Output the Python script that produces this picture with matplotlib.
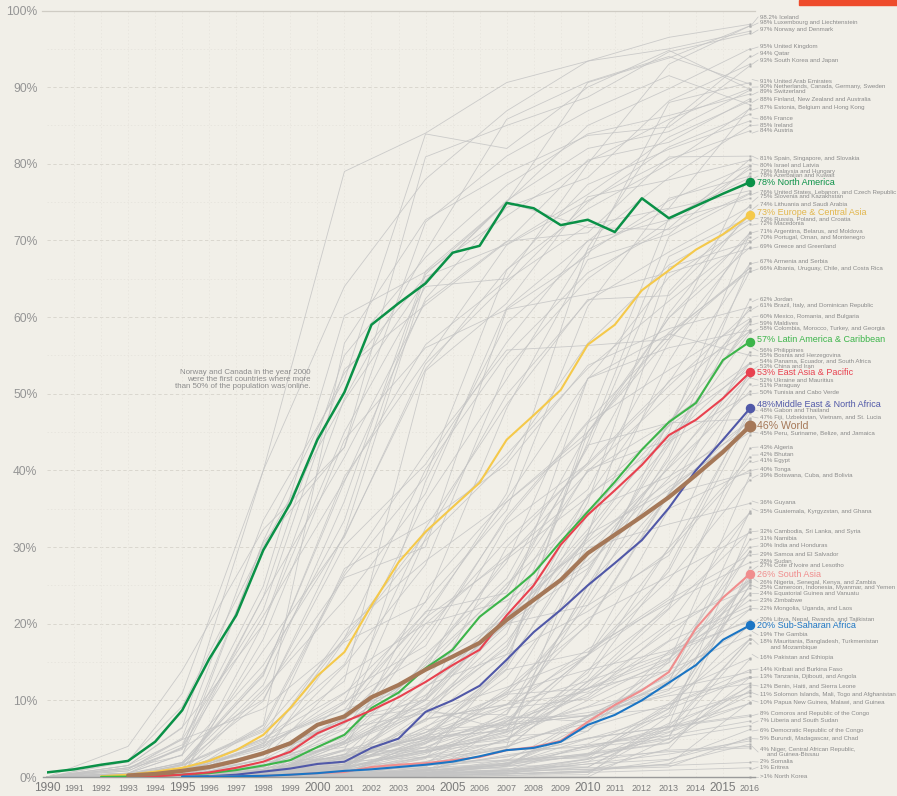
import numpy as np
import matplotlib
matplotlib.use("Agg")
import matplotlib.pyplot as plt
from matplotlib.patches import Rectangle

plt.rcParams['font.family'] = ['Liberation Sans', 'DejaVu Sans']

# ---- data -------------------------------------------------------------
years = list(range(1990, 2017))
nan = np.nan

north_america = [0.6, 1.0, 1.6, 2.1, 4.6, 8.7, 15.4, 21.1, 29.6, 35.7, 44.0, 50.2, 59.0, 61.8, 64.4, 68.4,
                 69.3, 74.9, 74.2, 72.0, 72.7, 71.1, 75.5, 72.9, 74.5, 76.1, 77.6]
europe = [nan, nan, 0.1, 0.3, 0.7, 1.2, 2.1, 3.5, 5.5, 9.0, 13.2, 16.3, 22.4, 28.0, 32.0, 35.2,
          38.4, 44.0, 47.2, 50.5, 56.4, 59.0, 63.5, 66.1, 68.8, 70.8, 73.3]
latin_america = [nan, nan, 0.02, 0.05, 0.15, 0.3, 0.5, 0.9, 1.5, 2.2, 3.9, 5.5, 9.0, 11.0, 14.2, 16.6,
                 20.9, 23.6, 26.6, 30.7, 34.6, 38.5, 42.7, 46.3, 48.8, 54.4, 56.8]
east_asia = [nan, nan, nan, 0.05, 0.1, 0.3, 0.6, 1.2, 2.0, 3.3, 5.7, 7.2, 8.7, 10.4, 12.4, 14.6,
             16.6, 21.1, 25.0, 30.3, 34.2, 37.4, 40.7, 44.6, 46.6, 49.4, 52.8]
mena = [nan, nan, nan, nan, nan, 0.05, 0.1, 0.3, 0.7, 1.1, 1.7, 2.0, 3.8, 5.0, 8.5, 10.0,
        11.9, 15.3, 18.9, 21.8, 25.0, 27.9, 30.9, 35.1, 40.0, 44.0, 48.1]
world = [nan, nan, nan, 0.2, 0.4, 0.8, 1.3, 2.1, 3.1, 4.4, 6.8, 7.9, 10.4, 12.0, 14.0, 15.7,
         17.5, 20.5, 23.1, 25.7, 29.2, 31.6, 34.0, 36.5, 39.4, 42.4, 45.8]
south_asia = [nan, nan, nan, nan, nan, nan, 0.05, 0.1, 0.15, 0.3, 0.5, 0.65, 1.3, 1.6, 1.8, 2.2,
              2.6, 3.5, 3.9, 4.7, 7.2, 9.4, 11.3, 13.7, 19.4, 23.4, 26.5]
sub_saharan = [nan, nan, nan, nan, nan, 0.02, 0.05, 0.1, 0.15, 0.3, 0.5, 0.8, 1.0, 1.3, 1.6, 2.0,
               2.7, 3.5, 3.8, 4.6, 6.8, 8.1, 10.0, 12.3, 14.6, 17.9, 19.8]

region_series = [north_america, europe, latin_america, east_asia, mena, world, south_asia, sub_saharan]
region_labels = ["78% North America", "73% Europe & Central Asia", "57% Latin America & Caribbean",
                 "53% East Asia & Pacific", "48%Middle East & North Africa", "46% World",
                 "26% South Asia", "20% Sub-Saharan Africa"]

# country lines, sampled at these years
country_years = [1990, 1993, 1995, 1998, 2001, 2004, 2007, 2010, 2013, 2016]
country_values = [
    [0, 2, 10.9, 40, 79, 84, 90.6, 93.4, 96.5, 98.2],        # Iceland
    [0, 0, 1.7, 12, 36, 66, 75, 90.6, 93.8, 98],             # Luxembourg
    [0, 0, 0, 20, 45, 64, 65, 80, 93, 98],                   # Liechtenstein
    [0, 1.5, 6.4, 40, 64, 78, 86.9, 93.4, 95, 97.3],         # Norway
    [0, 0.8, 3.8, 30.6, 43, 80.9, 85, 88.7, 94.6, 97],       # Denmark
    [0, 0.3, 1.9, 13.7, 33.5, 65.6, 75, 85, 89.8, 95],       # United Kingdom
    [0, 0, 0, 1.3, 6.2, 20.7, 37, 69, 85.3, 94],             # Qatar
    [0, 0.1, 0.8, 6.8, 56.6, 72.7, 78.8, 83.7, 84.8, 92.8],  # South Korea
    [0, 0.3, 1.6, 13.4, 38.5, 62.4, 74.3, 78.2, 88.2, 93],   # Japan
    [0, 0, 0.6, 11, 26, 30, 61, 68, 88, 90.6],               # UAE
    [0, 1.5, 6.5, 19.9, 49.4, 68.5, 85.8, 90.7, 94, 90.4],   # Netherlands
    [0, 1.2, 4.2, 24.9, 60.2, 65.9, 73.2, 80.3, 85.8, 89.8], # Canada
    [0, 0.5, 1.8, 9.9, 31.7, 64.7, 75.2, 82, 84.2, 89.6],    # Germany
    [0, 1, 5.1, 33.5, 51.8, 83.9, 82, 90, 94.8, 89.7],       # Sweden
    [0, 1.2, 3.6, 23.5, 55, 67.8, 77.2, 83.9, 86.3, 89.1],   # Switzerland
    [0, 4, 13.9, 32.3, 43, 72.4, 81, 86.9, 91.5, 87.7],      # Finland
    [0, 1.5, 4.9, 21.8, 53.2, 61.6, 69.8, 80.5, 82.8, 88.5], # New Zealand
    [0, 1.2, 2.8, 30.8, 52.7, 65.3, 69.5, 76, 83.5, 88.2],   # Australia
    [0, 0.5, 2.9, 14.6, 31.5, 53.2, 66.2, 74.1, 80, 87.2],   # Estonia
    [0, 0.2, 1.0, 16.5, 31.3, 53.9, 64.4, 75, 82.2, 86.5],   # Belgium
    [0, 0.8, 3.9, 21, 38.7, 56.4, 64.8, 72, 74.2, 87.3],     # Hong Kong
    [0, 0.3, 1.6, 6.3, 26.3, 39.2, 66.1, 77.3, 81.9, 85.6],  # France
    [0, 0.2, 1.1, 11.4, 23.1, 37, 61.2, 69.9, 78.2, 85],     # Ireland
    [0, 0.4, 1.9, 13.2, 39.2, 54.3, 69.4, 75.2, 80.6, 84.3], # Austria
    [0, 0, 0.4, 4.4, 18.1, 40.1, 55.1, 65.8, 71.6, 80.6],    # Spain
    [0, 0.5, 2.9, 23.5, 41.7, 62, 69.9, 71, 80.9, 81],       # Singapore
    [0, 0, 0.9, 5.0, 12.5, 53, 61.8, 75.7, 77.9, 80.5],      # Slovakia
    [0, 1, 4.9, 8.9, 17.6, 22.8, 48.1, 67.5, 70.8, 79.7],    # Israel
    [0, 0, 0.3, 3.2, 7.2, 38.6, 59.2, 68.4, 75.2, 79.8],     # Latvia
    [0, 0, 0.1, 6.7, 26.7, 42.3, 55.7, 56.3, 57.1, 78.8],    # Malaysia
    [0, 0, 0.7, 3.9, 14.5, 27.7, 53.3, 65, 72.6, 79.3],      # Hungary
    [0, 0, 0, 0, 0.3, 4.9, 14.5, 46, 73, 78.2],              # Azerbaijan
    [0, 0, 1.0, 4.8, 8.8, 22.9, 34.8, 61.4, 75.5, 78.4],     # Kuwait
    [0, 2.2, 9.2, 30.1, 49.1, 64.8, 75, 71.7, 71.4, 76.2],   # United States
    [0, 0, 0, 3.2, 7.5, 9, 18.7, 43.7, 70.5, 76.1],          # Lebanon
    [0, 0, 1.5, 5.9, 14.7, 36, 51.9, 68.8, 74.1, 76.5],      # Czech Republic
    [0, 0.5, 3.8, 10.1, 30.2, 40.8, 56.7, 70, 72.7, 75.5],   # Slovenia
    [0, 0, 0, 0.4, 1.0, 2.6, 4, 31.6, 63.3, 74.6],           # Kazakhstan
    [0, 0, 0.3, 3.3, 7.2, 31.2, 49.9, 62.1, 68.5, 74.4],     # Lithuania
    [0, 0, 0, 0.1, 4.7, 10.2, 30, 41, 60.5, 73.8],           # Saudi Arabia
    [0, 0, 0.2, 0.8, 2.9, 12.9, 24.7, 43, 67.9, 73.1],       # Russia
    [0, 0, 0.6, 4.1, 9.9, 32.5, 48.6, 62.3, 62.8, 73.3],     # Poland
    [0, 0, 0.3, 2.8, 17.8, 30.9, 41.4, 56.6, 66.8, 72.7],    # Croatia
    [0, 0, 0, 1.0, 3.5, 24.4, 36.3, 51.9, 65.2, 72.2],       # Macedonia
    [0, 0, 0.1, 0.8, 9.8, 16, 25.9, 45, 59.9, 71],           # Argentina
    [0, 0, 0, 0.1, 4.3, 10, 19.7, 31.8, 54.2, 71.1],         # Belarus
    [0, 0, 0, 0.5, 1.4, 10.6, 20.5, 32.3, 45, 71],           # Moldova
    [0, 0, 1.5, 6.1, 18.1, 31.8, 42.1, 53.3, 62.1, 70.4],    # Portugal
    [0, 0, 0, 1.0, 4.6, 9.4, 16.7, 35.8, 66.5, 69.8],        # Oman
    [0, 0, 0, 0, 5, 20, 28.9, 37.5, 56.8, 69.9],             # Montenegro
    [0, 0, 0.9, 3.6, 10.9, 21.4, 35.9, 44.4, 59.9, 69.1],    # Greece
    [0, 0, 0, 18, 44, 56, 61, 63, 65.8, 69],                 # Greenland
    [0, 0, 0, 0.9, 1.6, 4.9, 6.2, 25, 41.9, 67],             # Armenia
    [0, 0, 0, 0, 7, 14, 33, 40.9, 51.5, 67],                 # Serbia
    [0, 0, 0, 0.1, 0.3, 2.4, 15, 45, 57.2, 66.4],            # Albania
    [0, 0, 0.6, 5, 11, 17.1, 34, 46.4, 57.7, 66.4],          # Uruguay
    [0, 0, 0.9, 4.2, 19.1, 28.2, 35.9, 45, 58, 66],          # Chile
    [0, 0, 1.0, 3.9, 9.6, 20.8, 28.4, 36.5, 45.9, 66],       # Costa Rica
    [0, 0, 0, 0.5, 4.7, 11.7, 20, 27.2, 41.4, 62.3],         # Jordan
    [0, 0, 0.1, 1.5, 4.5, 19.1, 30.9, 40.7, 51, 60.9],       # Brazil
    [0, 0, 1.0, 4.6, 27.2, 33.2, 40.8, 53.7, 58.5, 61.3],    # Italy
    [0, 0, 0, 1.0, 4.4, 8.9, 17.7, 31.4, 45.9, 61.3],        # Dominican Republic
    [0, 0, 0.1, 1.3, 7.0, 14.1, 20.8, 31, 43.5, 59.5],       # Mexico
    [0, 0, 0, 2.4, 4.5, 15, 24.7, 39.9, 49.8, 59.5],         # Romania
    [0, 0, 0, 3, 7.6, 18.1, 33.6, 46.2, 53.1, 59.8],         # Bulgaria
    [0, 0, 0, 0.6, 3.6, 5.8, 13, 26.5, 44.1, 59.1],          # Maldives
    [0, 0, 0, 1.0, 2.9, 9.1, 21.8, 36.5, 51.7, 58.1],        # Colombia
    [0, 0, 0, 0.1, 1.4, 11.6, 21.5, 52, 56, 58.3],           # Morocco
    [0, 0, 0.1, 1.3, 5.2, 14.6, 28.6, 39.8, 46.3, 58.3],     # Turkey
    [0, 0, 0, 0.4, 1.0, 3.9, 8.2, 26.9, 43.3, 58],           # Georgia
    [0, 0, 0, 2, 2.5, 5.2, 6, 25, 36.9, 55.5],               # Philippines
    [0, 0, 0, 0, 1.2, 15.4, 28, 52, 57.8, 55],               # Bosnia and Herzegovina
    [0, 0, 0, 1.7, 7.4, 10.1, 22.3, 40.1, 44, 54],           # Panama
    [0, 0, 0, 0.4, 2.7, 4.8, 10.8, 29, 40.4, 54],            # Ecuador
    [0, 0, 0.7, 3.2, 6.3, 8.4, 8.1, 24, 46.5, 54],           # South Africa
    [0, 0, 0, 0.2, 2.6, 7.3, 16, 34.3, 45.8, 53.2],          # China
    [0, 0, 0, 0.1, 1.5, 7.5, 9.5, 15.9, 29.9, 53.2],         # Iran
    [0, 0, 0, 0.4, 1.2, 3.5, 6.6, 23.3, 40.9, 52.5],         # Ukraine
    [0, 0, 0, 4.4, 8.8, 12.3, 20.2, 28.3, 39, 52.2],         # Mauritius
    [0, 0, 0, 0.4, 1.1, 3.5, 11.2, 19.8, 36.9, 51.3],        # Paraguay
    [0, 0, 0, 0.2, 4.3, 8.5, 17.1, 36.8, 43.8, 50],          # Tunisia
    [0, 0, 0, 0.8, 2.7, 5.3, 14.7, 30, 40.3, 50.3],          # Cabo Verde
    [0, 0, 0, 0.5, 1.4, 3.2, 5.5, 13, 27.3, 48.1],           # Gabon
    [0, 0, 0.2, 1.5, 5.6, 10.7, 20, 22.4, 28.9, 47.5],       # Thailand
    [0, 0, 0, 1.2, 1.9, 7.6, 9.4, 20, 37.1, 46.5],           # Fiji
    [0, 0, 0, 0, 0.6, 2.6, 7.5, 15.9, 26.8, 46.8],           # Uzbekistan
    [0, 0, 0, 0, 1.3, 7.6, 20.8, 30.7, 38.5, 46.5],          # Vietnam
    [0, 0, 0, 1.3, 8.2, 21.6, 24, 43.3, 46.2, 46.7],         # St. Lucia
    [0, 0, 0.4, 2.3, 7.6, 14.1, 25.2, 34.8, 39.2, 45.5],     # Peru
    [0, 0, 0, 0, 2.5, 6.4, 14.1, 31.6, 37.4, 45.4],          # Suriname
    [0, 0, 0, 0, 2, 5.8, 11, 14, 22, 44.6],                  # Belize
    [0, 0, 0, 2.3, 3.9, 10, 21.1, 27.7, 37.8, 45],           # Jamaica
    [0, 0, 0, 0, 0.6, 4.6, 9.5, 12.5, 22.5, 42.9],           # Algeria
    [0, 0, 0, 0, 0.9, 3.2, 5.9, 13.6, 29.9, 41.8],           # Bhutan
    [0, 0, 0, 0.4, 0.8, 11.9, 16, 21.6, 29.4, 41.2],         # Egypt
    [0, 0, 0, 0.8, 2.9, 3.9, 7.2, 16, 35, 40],               # Tonga
    [0, 0, 0, 0.5, 3.4, 3.4, 5.3, 6, 15, 39.4],              # Botswana
    [0, 0, 0, 0.3, 1.1, 8.4, 11.7, 15.9, 25.7, 38.8],        # Cuba
    [0, 0, 0, 0.8, 2.1, 4.4, 10.5, 22.4, 36.9, 39.7],        # Bolivia
    [0, 0, 0, 2.3, 13.2, 20, 23, 29.9, 33, 35.7],            # Guyana
    [0, 0, 0, 0.5, 1.7, 4.6, 7.3, 10.5, 19.7, 34.5],         # Guatemala
    [0, 0, 0, 0.3, 3.0, 5.1, 14, 16.3, 23.4, 34.5],          # Kyrgyzstan
    [0, 0, 0, 0.1, 0.2, 1.7, 3.9, 7.8, 12.3, 34.7],          # Ghana
    [0, 0, 0, 0, 0.1, 0.3, 0.5, 1.3, 6.8, 32.4],             # Cambodia
    [0, 0, 0, 0.4, 0.8, 1.4, 3.9, 12, 21.9, 32],             # Sri Lanka
    [0, 0, 0, 0.1, 0.4, 4.3, 11.5, 20.7, 26.2, 31.9],        # Syria
    [0, 0, 0, 0.8, 2.4, 3.8, 4.9, 11.6, 13.9, 31],           # Namibia
    [0, 0, 0, 0.1, 0.7, 2.0, 4, 7.5, 12.6, 29.5],            # India
    [0, 0, 0, 0.5, 1.4, 5.8, 9.4, 11.1, 17.8, 30],           # Honduras
    [0, 0, 0, 0, 1.7, 3.4, 4.5, 7, 15.3, 29.4],              # Samoa
    [0, 0, 0, 0.7, 2.4, 8.9, 6.1, 15.9, 23.1, 29],           # El Salvador
    [0, 0, 0, 0, 0.2, 1.7, 8.7, 16.7, 22.7, 28],             # Sudan
    [0, 0, 0, 0, 0.3, 0.8, 1.8, 2.7, 8.4, 26.5],             # Cote d'Ivoire
    [0, 0, 0, 0, 0.3, 2.5, 3.5, 3.9, 5, 27.4],               # Lesotho
    [0, 0, 0, 0, 0.1, 1.3, 6.8, 11.5, 19.1, 25.7],           # Nigeria
    [0, 0, 0, 0.3, 1.0, 4.4, 7.7, 8, 13.1, 25.7],            # Senegal
    [0, 0, 0, 0.2, 0.6, 3.0, 7.9, 7.2, 12, 26],              # Kenya
    [0, 0, 0, 0, 0.5, 2.0, 4.9, 10, 15.4, 25.5],             # Zambia
    [0, 0, 0, 0, 0.3, 1.0, 2.9, 4.3, 8.9, 25],               # Cameroon
    [0, 0, 0, 0.3, 2.0, 2.6, 5.8, 10.9, 14.9, 25.4],         # Indonesia
    [0, 0, 0, 0, 0, 0, 0.2, 0.3, 8, 25.1],                   # Myanmar
    [0, 0, 0, 0, 0.1, 0.9, 5, 12.4, 20, 24.6],               # Yemen
    [0, 0, 0, 0, 0.2, 0.8, 1.6, 6, 16.4, 23.8],              # Equatorial Guinea
    [0, 0, 0, 0, 3.5, 5.0, 6.8, 8, 11.3, 24],                # Vanuatu
    [0, 0, 0, 0, 1.0, 6.6, 10.8, 11.5, 15.5, 23.1],          # Zimbabwe
    [0, 0, 0, 0.2, 1.7, 5.5, 9, 10.2, 17.7, 22.3],           # Mongolia
    [0, 0, 0, 0, 0.2, 0.8, 3.7, 12.5, 16.2, 21.9],           # Uganda
    [0, 0, 0, 0, 0.2, 0.4, 1.6, 7, 12.5, 21.9],              # Laos
    [0, 0, 0, 0, 0.4, 2.7, 4.7, 14, 16.5, 20.3],             # Libya
    [0, 0, 0, 0, 0.2, 0.4, 1.4, 7.9, 13.3, 19.7],            # Nepal
    [0, 0, 0, 0, 0.2, 0.4, 2.1, 8, 9, 20],                   # Rwanda
    [0, 0, 0, 0, 0.1, 0.1, 7.2, 11.6, 16, 20.5],             # Tajikistan
    [0, 0, 0, 0.1, 1.3, 3.3, 6.2, 9.2, 14, 18.5],            # The Gambia
    [0, 0, 0, 0, 0.3, 0.5, 1.4, 4, 6.2, 18],                 # Mauritania
    [0, 0, 0, 0, 0.1, 0.2, 1.8, 3.7, 6.6, 18],               # Bangladesh
    [0, 0, 0, 0, 0.2, 0.8, 1.3, 3, 9.6, 18],                 # Turkmenistan
    [0, 0, 0, 0, 0.2, 0.7, 0.9, 4.2, 5.4, 17.5],             # Mozambique
    [0, 0, 0, 0, 1.3, 6.2, 6.8, 8, 10.9, 15.5],              # Pakistan
    [0, 0, 0, 0, 0, 0.2, 0.4, 0.8, 3.7, 15.4],               # Ethiopia
    [0, 0, 0, 0, 2.3, 3.5, 5.9, 9.1, 11.5, 13.7],            # Kiribati
    [0, 0, 0, 0, 0.2, 0.4, 0.8, 2.4, 9.4, 14],               # Burkina Faso
    [0, 0, 0, 0, 0.2, 0.9, 1.6, 2.9, 4.4, 13],               # Tanzania
    [0, 0, 0, 0, 0.5, 0.9, 1.6, 6.5, 9.5, 13.1],             # Djibouti
    [0, 0, 0, 0, 0.3, 0.5, 2.3, 2.8, 8.9, 13],               # Angola
    [0, 0, 0, 0, 0.4, 1.2, 1.8, 3.1, 4.9, 12],               # Benin
    [0, 0, 0, 0, 0.3, 5.4, 7, 8.4, 10.6, 12.2],              # Haiti
    [0, 0, 0, 0, 0.2, 0.2, 0.2, 0.6, 6.4, 11.8],             # Sierra Leone
    [0, 0, 0, 0, 0.5, 0.6, 1.6, 5, 8, 11],                   # Solomon Islands
    [0, 0, 0, 0, 0.2, 0.4, 0.8, 2, 7, 11.1],                 # Mali
    [0, 0, 0, 0, 1.9, 1.5, 2.1, 3, 4.5, 11.3],               # Togo
    [0, 0, 0, 0, 0, 0.1, 1.9, 4, 5.9, 10.6],                 # Afghanistan
    [0, 0, 0, 0, 0.9, 1.2, 1.5, 1.3, 6.5, 9.6],              # Papua New Guinea
    [0, 0, 0, 0, 0.2, 0.4, 1, 2.3, 5.8, 9.6],                # Malawi
    [0, 0, 0, 0, 0.2, 0.5, 0.9, 1, 1.7, 9.8],                # Guinea
    [0, 0, 0, 0, 0.4, 1.5, 2.6, 5.1, 6.5, 7.9],              # Comoros
    [0, 0, 0, 0, 0, 1.1, 2.7, 5, 6.6, 8.1],                  # Republic of the Congo
    [0, 0, 0, 0, 0, 0, 0.6, 2.3, 5.4, 7.3],                  # Liberia
    [0, 0, 0, 0, 0, 0, 0, 0, 5, 6.7],                        # South Sudan
    [0, 0, 0, 0, 0, 0.2, 0.4, 0.7, 2.2, 6.2],                # DR Congo
    [0, 0, 0, 0, 0.1, 0.3, 0.7, 1, 1.3, 5.2],                # Burundi
    [0, 0, 0, 0, 0.3, 0.5, 0.6, 1.7, 3, 4.7],                # Madagascar
    [0, 0, 0, 0, 0.1, 0.4, 0.8, 1.7, 2.3, 5],                # Chad
    [0, 0, 0, 0, 0.1, 0.2, 0.4, 0.8, 1.7, 4.3],              # Niger
    [0, 0, 0, 0, 0.1, 0.2, 0.4, 2, 3.5, 4],                  # Central African Republic
    [0, 0, 0, 0, 0.4, 1.9, 2.2, 2.5, 3.3, 3.8],              # Guinea-Bissau
    [0, 0, 0, 0, 0.2, 1.0, 1.1, 1.2, 1.5, 1.9],              # Somalia
    [0, 0, 0, 0, 0.2, 0.6, 0.4, 0.6, 0.9, 1.2],              # Eritrea
    [0, 0, 0, 0, 0, 0, 0, 0, 0, 0],                          # North Korea
]

small_labels = [
    "98.2% Iceland", "98% Luxembourg and Liechtenstein", "97% Norway and Denmark",
    "95% United Kingdom", "94% Qatar", "93% South Korea and Japan",
    "91% United Arab Emirates", "90% Netherlands, Canada, Germany, Sweden", "89% Switzerland",
    "88% Finland, New Zealand and Australia", "87% Estonia, Belgium and Hong Kong",
    "86% France", "85% Ireland", "84% Austria",
    "81% Spain, Singapore, and Slovakia", "80% Israel and Latvia", "79% Malaysia and Hungary",
    "78% Azerbaijan and Kuwait", "76% United States, Lebanon, and Czech Republic",
    "75% Slovenia and Kazakhstan", "74% Lithuania and Saudi Arabia",
    "73% Russia, Poland, and Croatia", "72% Macedonia", "71% Argentina, Belarus, and Moldova",
    "70% Portugal, Oman, and Montenegro", "69% Greece and Greenland",
    "67% Armenia and Serbia", "66% Albania, Uruguay, Chile, and Costa Rica",
    "62% Jordan", "61% Brazil, Italy, and Dominican Republic", "60% Mexico, Romania, and Bulgaria",
    "59% Maldives", "58% Colombia, Morocco, Turkey, and Georgia",
    "56% Philippines", "55% Bosnia and Herzegovina", "54% Panama, Ecuador, and South Africa",
    "53% China and Iran", "52% Ukraine and Mauritius", "51% Paraguay", "50% Tunisia and Cabo Verde",
    "48% Gabon and Thailand", "47% Fiji, Uzbekistan, Vietnam, and St. Lucia",
    "45% Peru, Suriname, Belize, and Jamaica", "43% Algeria", "42% Bhutan", "41% Egypt",
    "40% Tonga", "39% Botswana, Cuba, and Bolivia", "36% Guyana",
    "35% Guatemala, Kyrgyzstan, and Ghana", "32% Cambodia, Sri Lanka, and Syria", "31% Namibia",
    "30% India and Honduras", "29% Samoa and El Salvador", "28% Sudan",
    "27% Cote d'Ivoire and Lesotho", "26% Nigeria, Senegal, Kenya, and Zambia",
    "25% Cameroon, Indonesia, Myanmar, and Yemen", "24% Equatorial Guinea and Vanuatu",
    "23% Zimbabwe", "22% Mongolia, Uganda, and Laos", "20% Libya, Nepal, Rwanda, and Tajikistan",
    "19% The Gambia", "18% Mauritania, Bangladesh, Turkmenistan\n      and Mozambique",
    "16% Pakistan and Ethiopia", "14% Kiribati and Burkina Faso",
    "13% Tanzania, Djibouti, and Angola", "12% Benin, Haiti, and Sierra Leone",
    "11% Solomon Islands, Mali, Togo and Afghanistan", "10% Papua New Guinea, Malawi, and Guinea",
    "8% Comoros and Republic of the Congo", "7% Liberia and South Sudan",
    "6% Democratic Republic of the Congo", "5% Burundi, Madagascar, and Chad",
    "4% Niger, Central African Republic,\n    and Guinea-Bissau", "2% Somalia", "1% Eritrea",
    ">1% North Korea",
]
small_values = [98.2, 98, 97, 95, 94, 93, 91, 90, 89, 88, 87, 86, 85, 84, 81, 80, 79, 78, 76, 75,
                74, 73, 72, 71, 70, 69, 67, 66, 62, 61, 60, 59, 58, 56, 55, 54, 53, 52, 51, 50,
                48, 47, 45, 43, 42, 41, 40, 39, 36, 35, 32, 31, 30, 29, 28, 27, 26, 25, 24, 23,
                22, 20, 19, 18, 16, 14, 13, 12, 11, 10, 8, 7, 6, 5, 4, 2, 1, 0]

# ---- layout / style ---------------------------------------------------
small_label_y = [99.15, 98.37, 97.46, 95.24, 94.45, 93.54, 90.80, 90.02, 89.37, 88.45, 87.28,
                 85.85, 85.06, 84.28, 80.63, 79.84, 79.06, 78.41, 76.32, 75.67, 74.64, 72.82,
                 72.15, 71.23, 70.45, 69.15, 67.19, 66.28, 62.36, 61.45, 60.14, 59.23, 58.45,
                 55.58, 54.93, 54.27, 53.62, 51.79, 51.14, 50.10, 47.75, 46.84, 44.88, 43.05,
                 42.01, 41.23, 40.18, 39.40, 35.75, 34.70, 32.09, 31.18, 30.14, 29.09, 28.18,
                 27.53, 25.44, 24.66, 24.00, 23.09, 21.92, 20.61, 18.53, 17.29, 15.53, 14.09,
                 13.05, 11.87, 10.70, 9.78, 8.22, 7.31, 6.13, 4.96, 3.26, 1.96, 1.30, 0.0]
region_label_y = [77.5, 73.6, 57.14, 52.71, 48.66, 45.79, 26.48, 19.83]
region_colors = ['#0a9147', '#f5c94a', '#3cb54a', '#e8414f', '#5058a8', '#a57858', '#f08d8d', '#1b75c4']
region_text_colors = ['#0a9147', '#e2b64c', '#3cb54a', '#e8414f', '#5058a8', '#a57858', '#f08d8d', '#1b75c4']
region_lw = [1.8, 1.5, 1.5, 1.5, 1.5, 3.0, 1.5, 1.5]

bg = '#f1efe8'
fig = plt.figure(figsize=(8.97, 7.96), dpi=100, facecolor=bg)
ax = fig.add_axes([47 / 897, 19 / 796, 703 / 897, 766.5 / 796])
ax.set_facecolor(bg)
ax.set_xlim(1990, 2016)
ax.set_ylim(0, 100)
for s in ax.spines.values():
    s.set_visible(False)

# grid
for v in range(10, 100, 10):
    ax.axhline(v, color='#d6d3cb', lw=0.6, ls=(0, (4, 3)), zorder=0)
for v in range(5, 100, 10):
    ax.axhline(v, color='#e4e1da', lw=0.5, ls=(0, (2, 3)), zorder=0)
for yr in years[1:]:
    ax.axvline(yr, color='#e6e3dc', lw=0.5, ls=(0, (2, 3)), zorder=0)
ax.plot([1989.8, 2016.2], [100, 100], color='#cfccc4', lw=0.9, clip_on=False, zorder=1)

# country lines
for row in country_values:
    ax.plot(country_years, row, color='#c4c4c4', lw=0.6, alpha=0.85, zorder=1, clip_on=False)
    ax.plot(2016, row[-1], 's', ms=2.0, color='#b0b0b0', mec='none', zorder=2, clip_on=False)

ax.plot([1989.85, 2016.2], [0, 0], color='#9a9a9a', lw=1.0, clip_on=False, zorder=3)

# region lines
for ser, col, lw in zip(region_series, region_colors, region_lw):
    ax.plot(years, ser, color=col, lw=lw, zorder=5, solid_capstyle='round')
    ax.plot(2016, ser[-1], 'o', ms=(7.5 if lw > 2 else 5.8), color=col, zorder=6, clip_on=False)

# right-hand labels
for txt, val, ly in zip(small_labels, small_values, small_label_y):
    ax.plot([2016.08, 2016.3], [val, ly], color='#c4c4c4', lw=0.5, clip_on=False, zorder=2)
    ax.text(2016.37, ly, txt, fontsize=4.4, color='#8a8a8a', va='center', ha='left',
            linespacing=1.1, clip_on=False)

for txt, ser, ly, col in zip(region_labels, region_series, region_label_y, region_text_colors):
    big = txt.endswith('World')
    ax.text(2016.26, ly, txt, fontsize=(7.6 if big else 6.5), color=col, va='center', ha='left',
            clip_on=False)

ax.text(1999.75, 50.5, "Norway and Canada in the year 2000\nwere the first countries where more\n"
        "than 50% of the population was online.", fontsize=5.7, color='#8c8c8c',
        ha='right', va='bottom', linespacing=1.0)

# ticks
ax.set_yticks(range(0, 101, 10))
ax.set_yticklabels([f"{v}%" for v in range(0, 101, 10)])
ax.tick_params(axis='y', length=0, pad=7, labelsize=8.7, labelcolor='#959595')
ax.set_xticks(years)
ax.set_xticklabels([str(y) for y in years])
ax.tick_params(axis='x', length=0, pad=8, labelcolor='#7a7a7a')
for lab, yr in zip(ax.get_xticklabels(), years):
    lab.set_fontsize(8.6 if yr % 5 == 0 else 6.4)
    lab.set_va('center')

# accent bar top right
fig.add_artist(Rectangle((799 / 897, 1 - 5 / 796), 98 / 897, 5 / 796,
                         transform=fig.transFigure, color='#ee4b2b'))

fig.savefig('out.png', dpi=100, facecolor=bg)
